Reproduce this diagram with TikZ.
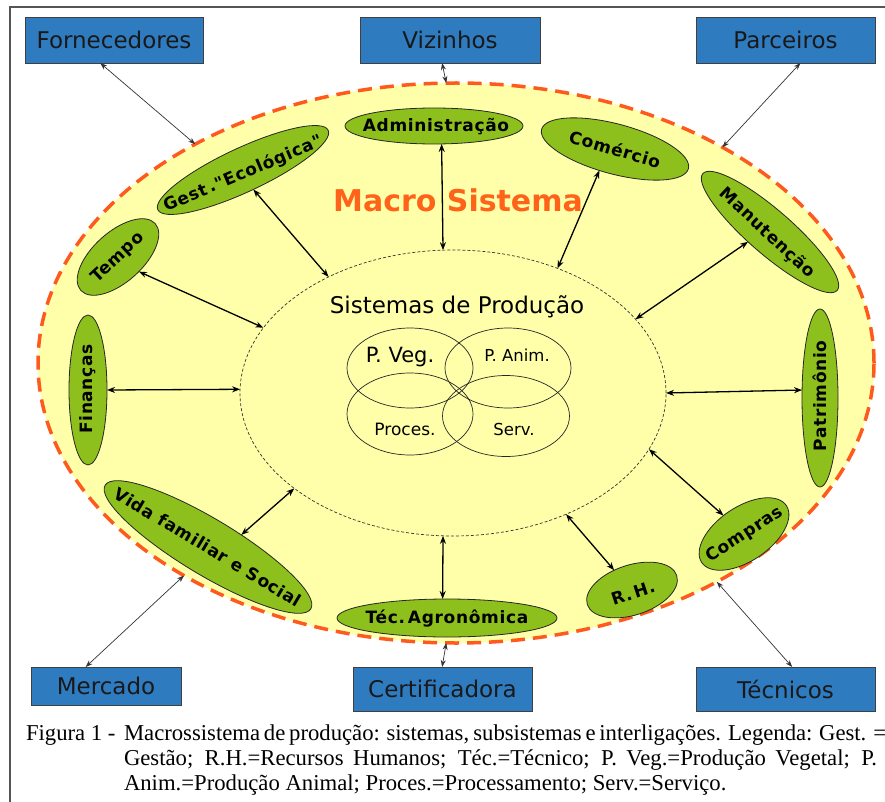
\documentclass[tikz,border=0pt]{standalone}
\usepackage{fontspec}
\usetikzlibrary{shapes.geometric,arrows.meta}
\newfontfamily\dv{DejaVu Sans}
\newfontfamily\gf[LetterSpace=4]{DejaVu Sans}
\newfontfamily\capf{Liberation Serif}
\definecolor{yel}{HTML}{FFFFAA}
\definecolor{dashor}{HTML}{FF5A1E}
\definecolor{msor}{HTML}{FF6319}
\definecolor{grn}{HTML}{8DC01C}
\definecolor{blu}{HTML}{2E7BC0}
\definecolor{frm}{HTML}{555555}
\begin{document}
\begin{tikzpicture}[x=1pt,y=-1pt,
  every node/.style={outer sep=0pt},
  gell/.style={ellipse, draw=black!85, line width=0.8pt, fill=grn, inner sep=0pt},
  gtxt/.style={font={\fontsize{17pt}{20pt}\gf\bfseries}, inner sep=0pt, text=black},
  bbox/.style={rectangle, draw=black!75, line width=0.8pt, fill=blu, inner sep=0pt,
    font={\fontsize{23pt}{26pt}\dv}, text=black!90},
  sub/.style={ellipse, draw=black!85, line width=0.7pt, inner sep=0pt},
  thinarr/.style={draw=black!80, line width=0.7pt, {Stealth[length=7pt,width=5pt]}-{Stealth[length=7pt,width=5pt]}},
  thkarr/.style={draw=black, line width=1.3pt, {Stealth[length=8pt,width=6pt]}-{Stealth[length=8pt,width=6pt]}},
  capt/.style={font={\fontsize{22.7pt}{25pt}\capf}, inner sep=0pt, text=black}
]
\useasboundingbox (0,0) rectangle (885,802);
% frame
\draw[frm, line width=1.4pt] (885,7) -- (10,7) -- (10,802);
% big ellipse
\node[ellipse, fill=yel, draw=dashor, line width=3.5pt, dash pattern=on 14pt off 8pt,
  minimum width=836pt, minimum height=560pt, inner sep=0pt] (macro) at (456,363) {};
% inner ellipse
\node[ellipse, draw=black!80, line width=0.7pt, dash pattern=on 3pt off 2pt,
  minimum width=426pt, minimum height=286pt, inner sep=0pt] (sis) at (453,393) {};
% sub ellipses
\node[sub, minimum width=126pt, minimum height=80pt] (pveg) at (410,368) {};
\node[sub, minimum width=126pt, minimum height=80pt] (panim) at (508,368) {};
\node[sub, minimum width=126pt, minimum height=82pt] (proc) at (410,414) {};
\node[sub, minimum width=127pt, minimum height=81pt] (serv) at (506,416) {};
\node[font={\fontsize{23pt}{26pt}\dv}, anchor=base, inner sep=0pt] (sist) at (457,313) {Sistemas de Produção};
\node[font={\fontsize{21pt}{24pt}\dv}, anchor=base, inner sep=0pt] (pvegt) at (400,362) {P. Veg.};
\node[font={\fontsize{16.5pt}{20pt}\dv}, anchor=base, inner sep=0pt] (panimt) at (517,361) {P. Anim.};
\node[font={\fontsize{17pt}{20pt}\dv}, anchor=base, inner sep=0pt] (proct) at (405,435) {Proces.};
\node[font={\fontsize{16.5pt}{20pt}\dv}, anchor=base, inner sep=0pt] (servt) at (514,435) {Serv.};
% Macro Sistema
\node[font={\fontsize{30pt}{34pt}\dv\bfseries}, text=msor, anchor=base, inner sep=0pt] (mst) at (458,212) {Macro Sistema};
% green ellipses
\node[gell, minimum width=178pt, minimum height=36pt] (adm) at (434,126) {};
\node[gtxt] (admt) at (436,127) {Administração};
\node[gell, minimum width=188pt, minimum height=44pt, rotate=25] (gest) at (243,170) {};
\node[gtxt, rotate=23] (gestt) at (243,174) {Gest\,."Ecológica"};
\node[gell, minimum width=152pt, minimum height=50pt, rotate=-15] (com) at (615,149) {};
\node[gtxt, rotate=-16.5] (comt) at (615,149) {Comércio};
\node[gell, minimum width=100pt, minimum height=50pt, rotate=42] (tempo) at (118,257) {};
\node[gtxt, rotate=43] (tempot) at (118,258) {Tempo};
\node[gell, minimum width=178pt, minimum height=44pt, rotate=-41] (manut) at (770,232) {};
\node[gtxt, rotate=-43] (manutt) at (767,233) {Manutenção};
\node[gell, minimum width=38pt, minimum height=150pt] (fin) at (88,390) {};
\node[gtxt, rotate=90] (fint) at (88,389) {Finanças};
\node[gell, minimum width=36pt, minimum height=178pt] (patr) at (820,398) {};
\node[gtxt, rotate=90] (patrt) at (820,396) {Patrimônio};
\node[gell, minimum width=240pt, minimum height=56pt, rotate=-31] (vida) at (208,547) {};
\node[gtxt, rotate=-31] (vidat) at (208,547) {Vida familiar e Social};
\node[gell, minimum width=220pt, minimum height=38pt] (tecag) at (447,618) {};
\node[gtxt] (tecagt) at (447,619) {Téc.\,Agronômica};
\node[gell, minimum width=94pt, minimum height=50pt, rotate=18] (rh) at (632,590) {};
\node[gtxt, rotate=18] (rht) at (633,593) {R.\,H.};
\node[gell, minimum width=102pt, minimum height=54pt, rotate=34] (comp) at (744,534) {};
\node[gtxt, rotate=33] (compt) at (745,535) {Compras};
% blue boxes
\node[bbox, minimum width=178pt, minimum height=46pt] (forn) at (114,40) {Fornecedores};
\node[bbox, minimum width=180pt, minimum height=46pt] (viz) at (450,40) {Vizinhos};
\node[bbox, minimum width=179pt, minimum height=46pt] (parc) at (785.5,40) {Parceiros};
\node[bbox, minimum width=150pt, minimum height=38pt] (merc) at (106,686) {Mercado};
\node[bbox, minimum width=179pt, minimum height=44pt] (cert) at (442.5,689) {Certificadora};
\node[bbox, minimum width=179pt, minimum height=44pt] (tec) at (785.5,689) {Técnicos};
% outer arrows
\draw[thinarr] (forn.-121) -- (macro.140.7);
\draw[thinarr] (viz.-109.2) -- (macro.92.9);
\draw[thinarr] (parc.-57.8) -- (macro.39.7);
\draw[thinarr] (merc.137.9) -- (macro.-142.1);
\draw[thinarr] (cert.91) -- (macro.-92.8);
\draw[thinarr] (tec.73.5) -- (macro.-40.2);
% inner arrows
\draw[thkarr] (adm.-67) -- (sis.94.3);
\draw[thkarr] (gest.-87.6) -- (sis.137.1);
\draw[thkarr] (com.-111.5) -- (sis.50.8);
\draw[thkarr] (tempo.-77) -- (sis.161.9);
\draw[thkarr] (manut.245.4) -- (sis.22.9);
\draw[thkarr] (fin.0) -- (sis.179.2);
\draw[thkarr] (patr.156) -- (sis.0.8);
\draw[thkarr] (vida.51.1) -- (sis.-149.5);
\draw[thkarr] (tecag.103.4) -- (sis.-94.4);
\draw[thkarr] (rh.114.1) -- (sis.-47.5);
\draw[thkarr] (comp.104.2) -- (sis.-16);
% caption
\node[capt, anchor=base west] (cap0) at (26,740) {Figura 1 -};
\node[capt, anchor=base west] (cap1) at (124,740) {\makebox[753pt][s]{Macrossistema de produção: sistemas, subsistemas e interligações. Legenda: Gest. =}};
\node[capt, anchor=base west] (cap2) at (124,765) {\makebox[753pt][s]{Gestão; R.H.=Recursos Humanos; Téc.=Técnico; P. Veg.=Produção Vegetal; P.}};
\node[capt, anchor=base west] (cap3) at (124,790) {Anim.=Produção Animal; Proces.=Processamento; Serv.=Serviço.};
\end{tikzpicture}
\end{document}
